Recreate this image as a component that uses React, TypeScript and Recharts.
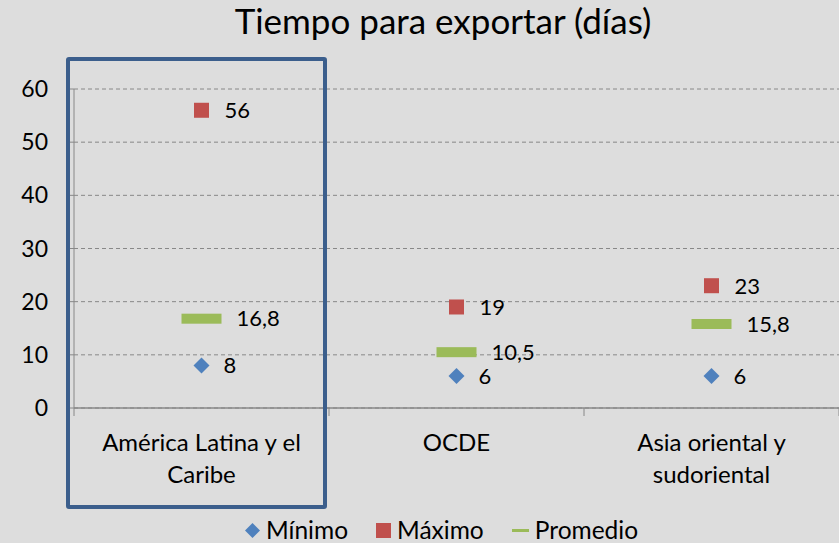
import { ComposedChart, Line, XAxis, YAxis, CartesianGrid, LabelList } from 'recharts';

const regions = ['América Latina y el Caribe', 'OCDE', 'Asia oriental y sudoriental'];
const regionLines = [['América Latina y el', 'Caribe'], ['OCDE'], ['Asia oriental y', 'sudoriental']];
const minimo = [8, 6, 6];
const maximo = [56, 19, 23];
const promedio = [16.8, 10.5, 15.8];
const yTicks = [0, 10, 20, 30, 40, 50, 60];

const data = regions.map((region, i) => ({
  region,
  minimo: minimo[i],
  maximo: maximo[i],
  promedio: promedio[i],
}));

const FONT = 'Lato, "Open Sans", sans-serif';
const BLUE = '#4F81BD';
const RED = '#C0504D';
const GREEN = '#9BBB59';
const AXIS = '#888888';
const TICK_SIZE = 8;
const TICK_MARGIN = 18;

const fmt = (v: any) => String(v).replace('.', ',');

const Diamond = ({ cx, cy }: any) =>
  cx == null ? null : (
    <polygon points={`${cx},${cy - 8} ${cx + 8},${cy} ${cx},${cy + 8} ${cx - 8},${cy}`} fill={BLUE} />
  );

const Square = ({ cx, cy }: any) =>
  cx == null ? null : <rect x={cx - 7.5} y={cy - 7.5} width={15} height={15} fill={RED} />;

const Dash = ({ cx, cy }: any) =>
  cx == null ? null : <rect x={cx - 20} y={cy - 5} width={40} height={10} fill={GREEN} />;

const RegionTick = ({ x, y, payload, index, width, visibleTicksCount }: any) => {
  const count = visibleTicksCount || regions.length;
  const half = width / count / 2;
  const axisY = y - TICK_SIZE - TICK_MARGIN;
  const lines = regionLines[regions.indexOf(payload.value)] || [payload.value];
  return (
    <g>
      <line x1={x - half} x2={x - half} y1={axisY} y2={axisY + TICK_SIZE} stroke={AXIS} />
      {index === count - 1 && (
        <line x1={x + half} x2={x + half} y1={axisY} y2={axisY + TICK_SIZE} stroke={AXIS} />
      )}
      <text x={x} y={y + 17} textAnchor="middle" fontSize={24} fontFamily={FONT} fill="#000">
        {lines.map((l: string, i: number) => (
          <tspan key={i} x={x} dy={i === 0 ? 0 : 32}>
            {l}
          </tspan>
        ))}
      </text>
    </g>
  );
};

const labelStyle = { fontSize: 22, fontFamily: FONT, fill: '#000' };

const LegendItem = ({ icon, text }: any) => (
  <div style={{ display: 'flex', alignItems: 'center', gap: 6 }}>
    {icon}
    <span>{text}</span>
  </div>
);

export default function App() {
  return (
    <div
      style={{
        position: 'fixed',
        top: 0,
        left: 0,
        width: 839,
        height: 543,
        background: '#DDDDDD',
        fontFamily: FONT,
        overflow: 'hidden',
      }}
    >
      <div
        style={{
          position: 'absolute',
          top: -1,
          left: 0,
          width: 886,
          textAlign: 'center',
          fontSize: 35,
          lineHeight: '42px',
          color: '#000',
        }}
      >
        Tiempo para exportar (días)
      </div>
      <ComposedChart
        width={839}
        height={543}
        data={data}
        margin={{ top: 89, right: 0, bottom: 75, left: 0 }}
      >
        <CartesianGrid vertical={false} stroke={AXIS} strokeDasharray="4 3" />
        <XAxis
          dataKey="region"
          type="category"
          scale="band"
          height={60}
          tickLine={false}
          tickSize={TICK_SIZE}
          tickMargin={TICK_MARGIN}
          axisLine={{ stroke: AXIS, strokeWidth: 1.5 }}
          tick={<RegionTick />}
          interval={0}
        />
        <YAxis
          domain={[0, 60]}
          ticks={yTicks}
          width={74}
          tickSize={TICK_SIZE}
          tickMargin={TICK_MARGIN}
          axisLine={{ stroke: AXIS }}
          tickLine={{ stroke: AXIS }}
          tick={{ fontSize: 23, fontFamily: FONT, fill: '#000' }}
        />
        <Line dataKey="minimo" stroke="none" dot={<Diamond />} activeDot={false} isAnimationActive={false}>
          <LabelList dataKey="minimo" position="right" offset={22} formatter={fmt} style={labelStyle} />
        </Line>
        <Line dataKey="maximo" stroke="none" dot={<Square />} activeDot={false} isAnimationActive={false}>
          <LabelList dataKey="maximo" position="right" offset={23} formatter={fmt} style={labelStyle} />
        </Line>
        <Line dataKey="promedio" stroke="none" dot={<Dash />} activeDot={false} isAnimationActive={false}>
          <LabelList dataKey="promedio" position="right" offset={35} formatter={fmt} style={labelStyle} />
        </Line>
      </ComposedChart>
      <div
        style={{
          position: 'absolute',
          left: 66,
          top: 57,
          width: 261,
          height: 452,
          border: '4px solid #3B5E8C',
          borderRadius: 3,
          boxSizing: 'border-box',
          pointerEvents: 'none',
        }}
      />
      <div
        style={{
          position: 'absolute',
          left: 245,
          top: 515,
          display: 'flex',
          alignItems: 'center',
          gap: 28,
          fontSize: 24.5,
          lineHeight: '30px',
          color: '#000',
        }}
      >
        <LegendItem
          icon={
            <svg width={15} height={15}>
              <polygon points="7.5,0 15,7.5 7.5,15 0,7.5" fill={BLUE} />
            </svg>
          }
          text="Mínimo"
        />
        <LegendItem icon={<div style={{ width: 15, height: 15, background: RED }} />} text="Máximo" />
        <LegendItem icon={<div style={{ width: 17, height: 3, background: GREEN }} />} text="Promedio" />
      </div>
    </div>
  );
}
